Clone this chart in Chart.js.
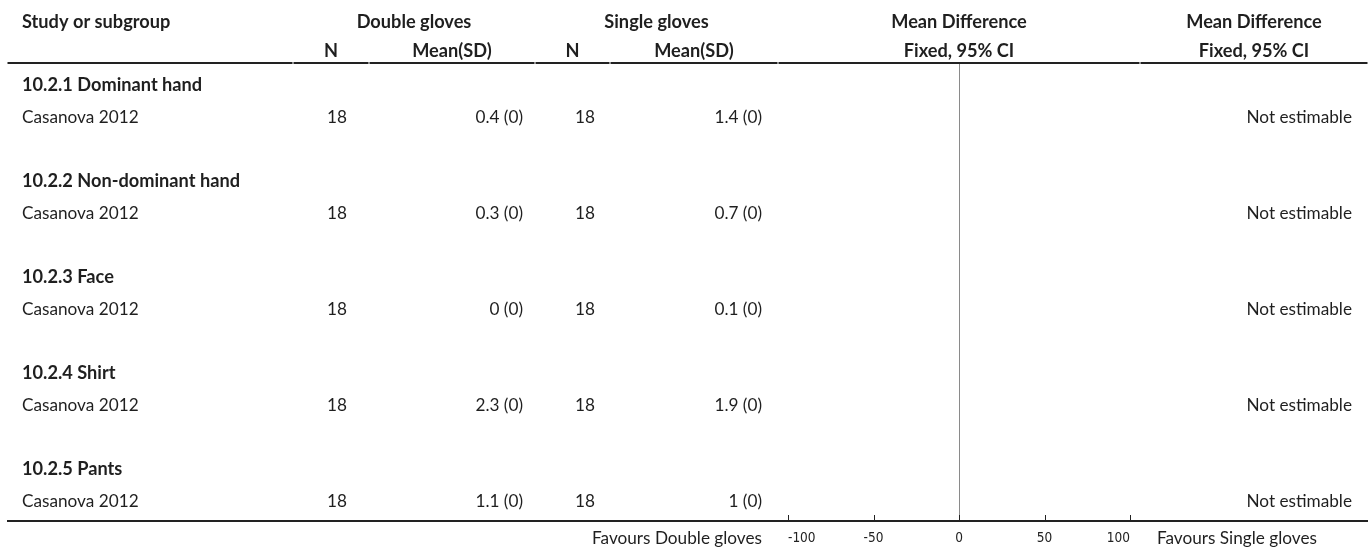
<!DOCTYPE html>
<html>
<head>
<meta charset="utf-8">
<script src="https://cdn.jsdelivr.net/npm/chart.js@4.4.1/dist/chart.umd.min.js"></script>
<style>
  html, body { margin: 0; padding: 0; background: #fff; }
  canvas { display: block; }
</style>
</head>
<body>
<canvas id="forest" width="1370" height="551"></canvas>
<script>
// ---- data ----
const subgroups   = ['10.2.1 Dominant hand', '10.2.2 Non-dominant hand', '10.2.3 Face', '10.2.4 Shirt', '10.2.5 Pants'];
const studies     = ['Casanova 2012', 'Casanova 2012', 'Casanova 2012', 'Casanova 2012', 'Casanova 2012'];
const doubleN     = [18, 18, 18, 18, 18];
const doubleMean  = [0.4, 0.3, 0, 2.3, 1.1];
const doubleSD    = [0, 0, 0, 0, 0];
const singleN     = [18, 18, 18, 18, 18];
const singleMean  = [1.4, 0.7, 0.1, 1.9, 1];
const singleSD    = [0, 0, 0, 0, 0];
const meanDiff    = [null, null, null, null, null]; // all "Not estimable"
const xTicks      = [-100, -50, 0, 50, 100];
const favourLeft  = 'Favours Double gloves';
const favourRight = 'Favours Single gloves';

// ---- look ----
const FONT = 'Lato';
const REG = '17.2px ' + FONT;
const BOLD = 'bold 18.2px ' + FONT;
const TICK_FONT = "'DejaVu Sans Condensed', 'DejaVu Sans', sans-serif";
const INK = '#1f1f1f';
// column boundaries of the table (header rule is broken at each)
const colEdges = [7, 293, 369, 535, 610, 778, 1140, 1368];

// each subgroup block is 3 units of 32px; header row then study row
const sectionPos = subgroups.map((_, i) => i * 3 + 0.66);
const studyPos   = subgroups.map((_, i) => i * 3 + 1.67);

function fmt(m, sd) { return m + ' (' + sd + ')'; }

const tablePlugin = {
  id: 'forestTable',
  afterDraw(chart) {
    const { ctx, scales: { x, y }, chartArea } = chart;
    const zero = x.getPixelForValue(0);
    const mdCol = (colEdges[6] + colEdges[7]) / 2;
    ctx.save();
    ctx.fillStyle = INK;
    const txt = (s, px, py, align, f) => {
      ctx.font = f; ctx.textAlign = align; ctx.textBaseline = 'alphabetic';
      ctx.fillText(s, px, py);
    };

    // header rows
    txt('Study or subgroup', 22, 28, 'left', BOLD);
    txt('Double gloves', (colEdges[1] + colEdges[3]) / 2, 28, 'center', BOLD);
    txt('Single gloves', (colEdges[3] + colEdges[5]) / 2, 28, 'center', BOLD);
    txt('Mean Difference', zero, 28, 'center', BOLD);
    txt('Mean Difference', mdCol, 28, 'center', BOLD);
    txt('N', (colEdges[1] + colEdges[2]) / 2, 57, 'center', BOLD);
    txt('Mean(SD)', (colEdges[2] + colEdges[3]) / 2, 57, 'center', BOLD);
    txt('N', (colEdges[3] + colEdges[4]) / 2, 57, 'center', BOLD);
    txt('Mean(SD)', (colEdges[4] + colEdges[5]) / 2, 57, 'center', BOLD);
    txt('Fixed, 95% CI', zero, 57, 'center', BOLD);
    txt('Fixed, 95% CI', mdCol, 57, 'center', BOLD);

    // header rule, broken between columns
    ctx.strokeStyle = '#222';
    ctx.lineWidth = 2;
    for (let i = 0; i < colEdges.length - 1; i++) {
      ctx.beginPath();
      ctx.moveTo(colEdges[i] + 0.5, chartArea.top - 1);
      ctx.lineTo(colEdges[i + 1] - 0.5, chartArea.top - 1);
      ctx.stroke();
    }

    // body rows
    subgroups.forEach((g, i) => {
      const sy = y.getPixelForValue(sectionPos[i]) + 6;
      const ry = y.getPixelForValue(studyPos[i]) + 6;
      txt(g, 22, sy, 'left', BOLD);
      txt(studies[i], 22, ry, 'left', REG);
      txt(String(doubleN[i]), 347, ry, 'right', REG);
      txt(fmt(doubleMean[i], doubleSD[i]), 523, ry, 'right', REG);
      txt(String(singleN[i]), 595, ry, 'right', REG);
      txt(fmt(singleMean[i], singleSD[i]), 762, ry, 'right', REG);
      txt(meanDiff[i] == null ? 'Not estimable' : meanDiff[i].toFixed(2), 1352, ry, 'right', REG);
    });

    // bottom rule / axis line across the whole table
    const by = chartArea.bottom;
    ctx.beginPath();
    ctx.moveTo(colEdges[0], by);
    ctx.lineTo(colEdges[colEdges.length - 1], by);
    ctx.stroke();

    // inward tick marks
    ctx.lineWidth = 1;
    x.ticks.forEach(t => {
      const px = Math.round(x.getPixelForValue(t.value)) + 0.5;
      ctx.beginPath();
      ctx.moveTo(px, by);
      ctx.lineTo(px, by - 6);
      ctx.stroke();
    });

    // favours labels
    txt(favourLeft, 762, 544, 'right', REG);
    txt(favourRight, 1157, 544, 'left', REG);
    ctx.restore();
  }
};

new Chart(document.getElementById('forest'), {
  type: 'scatter',
  data: {
    datasets: [{
      label: 'Mean difference',
      data: meanDiff.map((v, i) => ({ x: v, y: studyPos[i] })),
      pointRadius: 0
    }]
  },
  options: {
    responsive: false,
    animation: false,
    events: [],
    layout: { padding: { left: 788, right: 240, top: 64, bottom: 0 } },
    plugins: { legend: { display: false }, tooltip: { enabled: false } },
    scales: {
      x: {
        type: 'linear',
        min: -100,
        max: 100,
        afterBuildTicks: s => { s.ticks = xTicks.map(v => ({ value: v })); },
        afterFit: s => { s.height = 30; },
        border: { display: false },
        grid: {
          drawTicks: false,
          tickLength: 0,
          lineWidth: 1,
          color: c => (c.tick && c.tick.value === 0 ? '#8a8a8a' : 'rgba(0,0,0,0)')
        },
        ticks: {
          align: 'inner',
          padding: 9,
          color: '#222',
          font: { family: TICK_FONT, size: 13.5 },
          callback: v => String(v)
        }
      },
      y: {
        type: 'linear',
        display: false,
        reverse: true,
        min: 0,
        max: 457 / 32
      }
    }
  },
  plugins: [tablePlugin]
});
</script>
</body>
</html>
